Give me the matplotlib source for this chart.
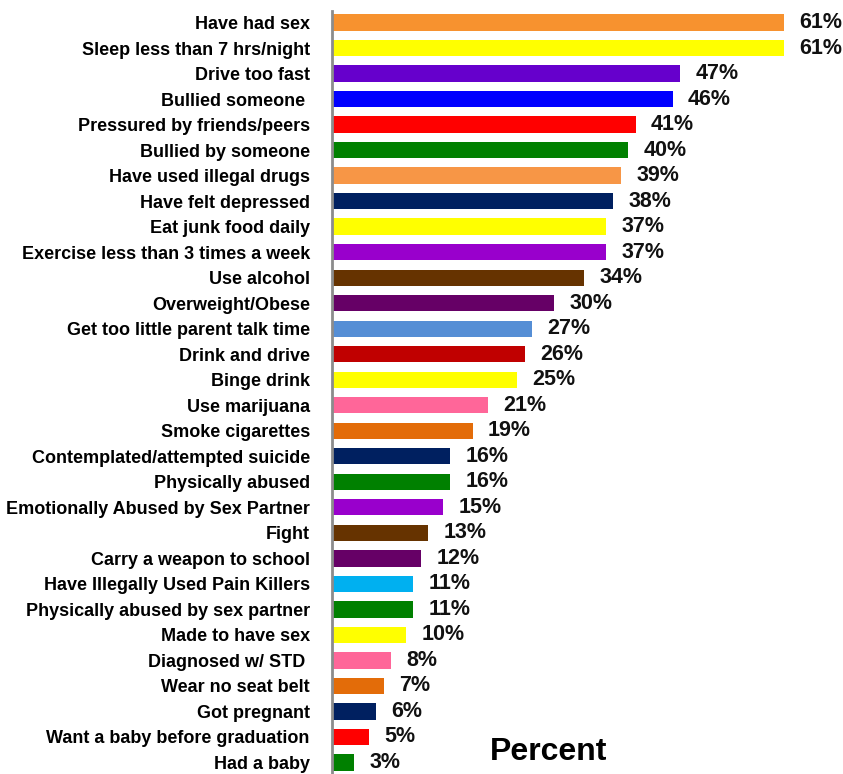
import matplotlib
matplotlib.use('Agg')
import matplotlib.pyplot as plt

# Categories, values and bar colours (top to bottom)
categories = [
    'Have had sex', 'Sleep less than 7 hrs/night', 'Drive too fast', 'Bullied someone ',
    'Pressured by friends/peers', 'Bullied by someone', 'Have used illegal drugs',
    'Have felt depressed', 'Eat junk food daily', 'Exercise less than 3 times a week',
    'Use alcohol', 'Overweight/Obese', 'Get too little parent talk time', 'Drink and drive',
    'Binge drink', 'Use marijuana', 'Smoke cigarettes', 'Contemplated/attempted suicide',
    'Physically abused', 'Emotionally Abused by Sex Partner', 'Fight',
    'Carry a weapon to school', 'Have Illegally Used Pain Killers',
    'Physically abused by sex partner', 'Made to have sex', 'Diagnosed w/ STD ',
    'Wear no seat belt', 'Got pregnant', 'Want a baby before graduation', 'Had a baby',
]
values = [61, 61, 47, 46, 41, 40, 39, 38, 37, 37, 34, 30, 27, 26, 25, 21, 19, 16, 16, 15,
          13, 12, 11, 11, 10, 8, 7, 6, 5, 3]
colors = [
    '#F7922F', '#FFFF00', '#6600CC', '#0000FF', '#FF0000', '#008000', '#F79646',
    '#002060', '#FFFF00', '#9900CC', '#663300', '#660066', '#558ED5', '#C00000',
    '#FFFF00', '#FF6699', '#E36C09', '#002060', '#008000', '#9900CC', '#663300',
    '#660066', '#00B0F0', '#008000', '#FFFF00', '#FF6699', '#E36C09', '#002060',
    '#FF0000', '#008000',
]

font = ['Liberation Sans', 'DejaVu Sans']

fig = plt.figure(figsize=(8.43, 7.74), dpi=100)
ax = fig.add_axes([332 / 843, 0, 1 - 332 / 843, 763 / 774])

ypos = list(range(len(categories)))
ax.barh(ypos, values, height=0.64, color=colors)

# value labels to the right of each bar
for y, v in zip(ypos, values):
    ax.annotate(f'{v}%', xy=(v, y), xytext=(11, 0), textcoords='offset points',
                ha='left', va='center', fontsize=15.5, fontweight='bold',
                family=font, color='#111111')

ax.set_xlim(0, 69)
ax.set_ylim(len(categories) - 0.55, -0.45)
ax.set_yticks(ypos)
ax.set_yticklabels(categories, fontsize=13, fontweight='bold', family=font)
ax.tick_params(axis='y', length=0, pad=16)
ax.set_xticks([])

for side in ['top', 'right', 'bottom']:
    ax.spines[side].set_visible(False)
ax.spines['left'].set_color('#8c8c8c')
ax.spines['left'].set_linewidth(2)

fig.text(549 / 843, 1 - 752 / 774, 'Percent', ha='center', va='center',
         fontsize=23, fontweight='bold', family=font)

fig.savefig('out.png', dpi=100)
